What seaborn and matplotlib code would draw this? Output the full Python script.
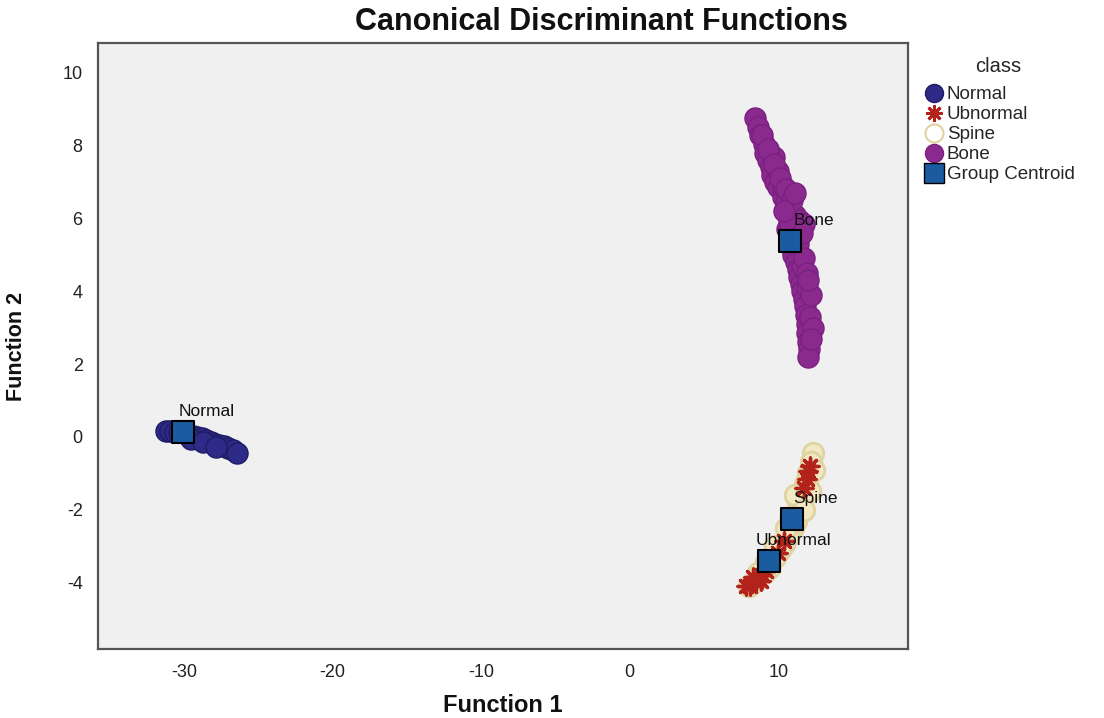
import matplotlib
matplotlib.use("Agg")
import matplotlib.pyplot as plt
from matplotlib.lines import Line2D
import seaborn as sns
import pandas as pd

# ---------------- data ----------------
normal_x = [-31.2, -30.9, -30.6, -30.3, -30.0, -29.7, -29.4, -29.1, -28.8, -28.5,
            -28.2, -27.9, -27.6, -27.3, -27.0, -26.7, -26.4, -29.5, -28.7, -27.8]
normal_y = [0.15, 0.17, 0.14, 0.12, 0.10, 0.06, 0.03, 0.00, -0.04, -0.09,
            -0.14, -0.19, -0.22, -0.26, -0.30, -0.36, -0.44, -0.05, -0.15, -0.28]

bone_x = [8.45, 8.6, 8.75, 9.0, 9.1, 9.3, 9.5, 9.6, 9.8, 10.0, 10.3, 10.5, 10.8, 11.1,
          11.4, 11.7, 10.6, 10.8, 10.9, 11.0, 11.2, 11.3, 11.4, 11.5, 11.6, 11.7, 11.8,
          11.85, 11.9, 11.95, 12.0, 12.05, 12.0, 10.3, 10.0, 9.7, 11.6, 11.9, 12.1, 10.7,
          8.9, 9.3, 9.7, 10.1, 10.5, 10.9, 11.3, 11.7, 11.9, 12.2, 12.3, 12.2,
          10.4, 11.1, 11.6, 12.0]
bone_y = [8.75, 8.5, 8.3, 8.05, 7.8, 7.6, 7.4, 7.2, 7.0, 6.85, 6.6, 6.45, 6.25, 6.1,
          5.95, 5.85, 5.7, 5.5, 5.2, 5.0, 4.8, 4.6, 4.4, 4.2, 4.0, 3.8, 3.6,
          3.35, 3.1, 2.85, 2.6, 2.4, 2.2, 6.9, 7.3, 7.7, 4.7, 4.1, 3.3, 5.9,
          8.3, 7.9, 7.5, 7.1, 6.8, 6.5, 5.3, 4.9, 4.5, 3.9, 3.0, 2.7,
          6.2, 6.7, 5.6, 4.3]

spine_x = [12.3, 12.2, 12.0, 11.8, 11.7, 11.6, 11.5, 11.4, 11.2, 11.0, 10.7, 10.4,
           10.1, 9.8, 9.4, 9.0, 8.5, 8.0, 11.9, 11.3, 10.9, 11.1, 10.5, 9.8, 9.2,
           8.6, 12.4, 12.1, 11.7]
spine_y = [-0.45, -0.7, -1.0, -1.3, -1.5, -1.7, -1.9, -2.1, -2.3, -2.5, -2.7, -2.95,
           -3.1, -3.3, -3.6, -3.75, -3.95, -4.1, -1.2, -1.8, -2.4, -1.6, -2.5, -3.0,
           -3.45, -3.75, -0.9, -1.5, -2.0]

ubnormal_x = [12.1, 12.0, 11.9, 11.7, 10.4, 10.0, 9.2, 8.9, 8.5, 8.1, 7.8, 8.3, 8.8]
ubnormal_y = [-0.8, -0.95, -1.15, -1.4, -2.85, -3.2, -3.7, -3.8, -3.95, -4.1, -4.1,
              -3.85, -3.95]

centroid_class = ["Normal", "Ubnormal", "Spine", "Bone"]
centroid_x = [-30.05, 9.4, 10.9, 10.8]
centroid_y = [0.12, -3.42, -2.27, 5.37]

x_ticks = [-30, -20, -10, 0, 10]
y_ticks = [-4, -2, 0, 2, 4, 6, 8, 10]

# ---------------- style ----------------
sns.set_style("white")
plt.rcParams["font.family"] = ["Liberation Sans", "DejaVu Sans"]
plt.rcParams["axes.unicode_minus"] = False

c_normal = "#2E2A88"
c_ubn = "#B2231C"
c_spine = "#E0D3A2"
c_bone = "#8A2A8F"
c_cent = "#1B5CA0"

fig = plt.figure(figsize=(11.04, 7.18), dpi=100)
ax = fig.add_axes([98 / 1104, 1 - 649 / 718, 810 / 1104, 606 / 718])
ax.set_facecolor("#F0F0F0")

df_n = pd.DataFrame({"x": normal_x, "y": normal_y})
df_b = pd.DataFrame({"x": bone_x, "y": bone_y})
df_s = pd.DataFrame({"x": spine_x, "y": spine_y})
df_u = pd.DataFrame({"x": ubnormal_x, "y": ubnormal_y})
df_c = pd.DataFrame({"x": centroid_x, "y": centroid_y, "cls": centroid_class})

sns.scatterplot(data=df_n, x="x", y="y", ax=ax, color=c_normal, s=230,
                edgecolor="#1F1C66", linewidth=1.0, zorder=3)
sns.scatterplot(data=df_b, x="x", y="y", ax=ax, color=c_bone, s=230,
                edgecolor="#7A2080", linewidth=1.0, zorder=3)
sns.scatterplot(data=df_s, x="x", y="y", ax=ax, facecolor="#F1E9C4", s=220,
                edgecolor=c_spine, linewidth=2.0, zorder=3)
ax.scatter(df_u["x"], df_u["y"], marker=(8, 2, 0), color=c_ubn, s=150,
           linewidths=2.4, zorder=4)
sns.scatterplot(data=df_c, x="x", y="y", ax=ax, marker="s", color=c_cent, s=250,
                edgecolor="black", linewidth=1.5, zorder=5)

for cls, cx, cy in zip(centroid_class, centroid_x, centroid_y):
    ax.annotate(cls, (cx, cy), xytext=(17, 15), textcoords="offset points",
                ha="center", va="center", fontsize=12.5, color="#111111", zorder=6)

ax.set_xlim(-35.77, 18.72)
ax.set_ylim(-5.83, 10.82)
ax.set_xticks(x_ticks)
ax.set_yticks(y_ticks)
ax.tick_params(axis="both", direction="out", length=7, width=1.8, color="#555555",
               labelsize=13, labelcolor="#222222", pad=4)
for sp in ax.spines.values():
    sp.set_color("#555555")
    sp.set_linewidth(1.6)

ax.set_xlabel("Function 1", fontsize=17, fontweight="bold", color="#111111")
ax.set_ylabel("Function 2", fontsize=15.5, fontweight="bold", color="#111111")
ax.xaxis.set_label_coords(0.5, -0.075)
ax.yaxis.set_label_coords(-0.088, 0.5)

fig.text(601 / 1104, 1 - 22 / 718, "Canonical Discriminant Functions",
         ha="center", va="center", fontsize=22, fontweight="bold", color="#111111")

handles = [
    Line2D([], [], marker="o", ls="", markersize=13, markerfacecolor=c_normal,
           markeredgecolor="#1F1C66"),
    Line2D([], [], marker=(8, 2, 0), ls="", markersize=12, color=c_ubn,
           markeredgewidth=2),
    Line2D([], [], marker="o", ls="", markersize=13, markerfacecolor="none",
           markeredgecolor=c_spine, markeredgewidth=1.5),
    Line2D([], [], marker="o", ls="", markersize=13, markerfacecolor=c_bone,
           markeredgecolor="#7A2080"),
    Line2D([], [], marker="s", ls="", markersize=14, markerfacecolor=c_cent,
           markeredgecolor="black"),
]
labels = ["Normal", "Ubnormal", "Spine", "Bone", "Group Centroid"]
leg = fig.legend(handles, labels, title="class", loc="upper left",
                 bbox_to_anchor=(915 / 1104, 1 - 50 / 718), frameon=False,
                 fontsize=13.5, title_fontsize=14.5, handletextpad=0.1,
                 handlelength=1.2, labelspacing=0.15, borderaxespad=0)
leg._legend_box.align = "center"
leg._legend_box.sep = 7

fig.savefig("out.png", dpi=100)
